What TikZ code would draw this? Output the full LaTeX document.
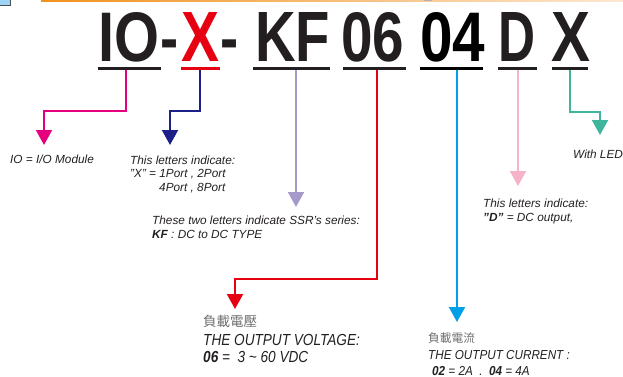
\documentclass[tikz,border=0pt]{standalone}
\usepackage{fontspec}
\setmainfont{Liberation Sans}
\newfontfamily\cjk{Noto Sans CJK TC}
\usepackage{graphicx}
\usetikzlibrary{arrows.meta}
\definecolor{ink}{HTML}{231F20}
\definecolor{cjkgray}{HTML}{6E6E6E}
\definecolor{cpink}{HTML}{E4007F}
\definecolor{cnavy}{HTML}{1D2088}
\definecolor{clav}{HTML}{A59ACA}
\definecolor{cred}{HTML}{E60012}
\definecolor{cblue}{HTML}{00A0E9}
\definecolor{clpink}{HTML}{F4B3C9}
\definecolor{cteal}{HTML}{40B59D}
\definecolor{orA}{HTML}{F0921E}
\definecolor{orB}{HTML}{FDE8D2}
\definecolor{boxblue}{HTML}{9DD3F3}
\newcommand{\bigglyph}[2]{\resizebox{#1}{49pt}{\bfseries #2}}
\begin{document}
\begin{tikzpicture}[x=1pt,y=-1pt,
  big/.style={anchor=base west, inner sep=0pt, text=ink},
  hy/.style={anchor=base west, inner sep=0pt, text=ink, font=\fontsize{68pt}{68pt}\selectfont\bfseries},
  uline/.style={line width=3pt},
  conn/.style={line width=2pt, -{Triangle[width=16pt,length=15pt]}},
  lab/.style={anchor=base west, inner sep=0pt, text=ink, font=\fontsize{11.8pt}{14pt}\selectfont\itshape},
  biglab/.style={anchor=base west, inner sep=0pt, text=ink, font=\fontsize{16pt}{18pt}\selectfont\itshape},
  midlab/.style={anchor=base west, inner sep=0pt, text=ink, font=\fontsize{13pt}{15pt}\selectfont\itshape},
  cjklab/.style={anchor=base west, inner sep=0pt, text=cjkgray}
]
\useasboundingbox (0,0) rectangle (623,377);
% top decorations
\fill[boxblue] (0,0) rectangle (10.5,5);
\draw[ink!80, line width=0.8pt] (0,5) -- (10.5,5) -- (10.5,0);
\shade[left color=orA, right color=orB] (41,0) rectangle (623,2);
\fill[gray!60] (424,0) rectangle (432,1.5);

% big code letters
\node[big] (io) at (98,62) {\bigglyph{61pt}{IO}};
\node[hy] (h1) at (160.6,62) {\scalebox{0.8}[1]{-}};
\node[big, text=cred] (x1) at (181,62) {\bigglyph{38pt}{X}};
\node[hy] (h2) at (220.6,62) {\scalebox{0.8}[1]{-}};
\node[big] (kf) at (255,62) {\bigglyph{75pt}{KF}};
\node[big] (v06) at (341,62) {\bigglyph{63pt}{06}};
\node[big, text=black] (v04) at (420,62) {\bigglyph{65pt}{04}};
\node[big] (dd) at (498,62) {\bigglyph{37pt}{D}};
\node[big] (x2) at (551,62) {\bigglyph{39pt}{X}};

% underlines
\draw[uline, ink] (97.7,68.3) -- (160.7,68.3);
\draw[uline, cred] (181,68.3) -- (220,68.3);
\draw[uline, ink] (253,68.3) -- (330,68.3);
\draw[uline, ink] (343,68.3) -- (406,68.3);
\draw[uline, black] (420,68.3) -- (483,68.3);
\draw[uline, ink] (498,68.3) -- (537,68.3);
\draw[uline, ink] (552,68.3) -- (588,68.3);

% connector start / end coordinates
\coordinate (ioS) at (126,70);   \coordinate (ioT) at (44,145);
\coordinate (xS) at (200,70);    \coordinate (xT) at (170,145);
\coordinate (kfS) at (296,70);   \coordinate (kfT) at (296,207);
\coordinate (vS) at (377,70);    \coordinate (vT) at (235,309);
\coordinate (cS) at (457,70);    \coordinate (cT) at (457,322);
\coordinate (dS) at (518,70);    \coordinate (dT) at (518,186);
\coordinate (lS) at (570,70);    \coordinate (lT) at (600,135);

\draw[conn, cpink] (ioS) -- ++(0,41) -| (ioT);
\draw[conn, cnavy] (xS) -- ++(0,41) -| (xT);
\draw[conn, clav] (kfS) -- (kfT);
\draw[conn, cred] (vS) -- ++(0,209) -| (vT);
\draw[conn, cblue] (cS) -- (cT);
\draw[conn, clpink] (dS) -- (dT);
\draw[conn, cteal] (lS) -- ++(0,42) -| (lT);

% labels
\node[lab] (tio) at (10,163) {IO = I/O Module};
\node[lab] (tx1) at (130,164) {This letters indicate:};
\node[lab] (tx2) at (130,177.5) {"X" = 1Port , 2Port};
\node[lab] (tx3) at (159,191) {4Port , 8Port};
\node[lab] (tk1) at (152,224) {These two letters indicate SSR's series:};
\node[lab] (tk2) at (152,238) {\textbf{KF} : DC to DC TYPE};
\node[lab] (td1) at (483,207) {This letters indicate:};
\node[lab] (td2) at (483,221) {\textbf{"D"} = DC output,};
\node[lab] (tl) at (573,158) {With LED};

\node[cjklab, font=\cjk\fontsize{13.5pt}{15pt}\selectfont] (tvc) at (203,326) {負載電壓};
\node[biglab] (tv1) at (203,345) {\scalebox{0.85}[1]{THE OUTPUT VOLTAGE:}};
\node[biglab] (tv2) at (203,362) {\scalebox{0.85}[1]{\textbf{06} =\ \ 3 \char`~\ 60 VDC}};

\node[cjklab, font=\cjk\fontsize{11.7pt}{13pt}\selectfont] (tcc) at (428,342.5) {負載電流};
\node[midlab] (tc1) at (428,359) {\scalebox{0.9}[1]{THE OUTPUT CURRENT :}};
\node[midlab] (tc2) at (432,375) {\scalebox{0.9}[1]{\textbf{02} = 2A\ \ .\ \ \textbf{04} = 4A}};
\end{tikzpicture}
\end{document}
